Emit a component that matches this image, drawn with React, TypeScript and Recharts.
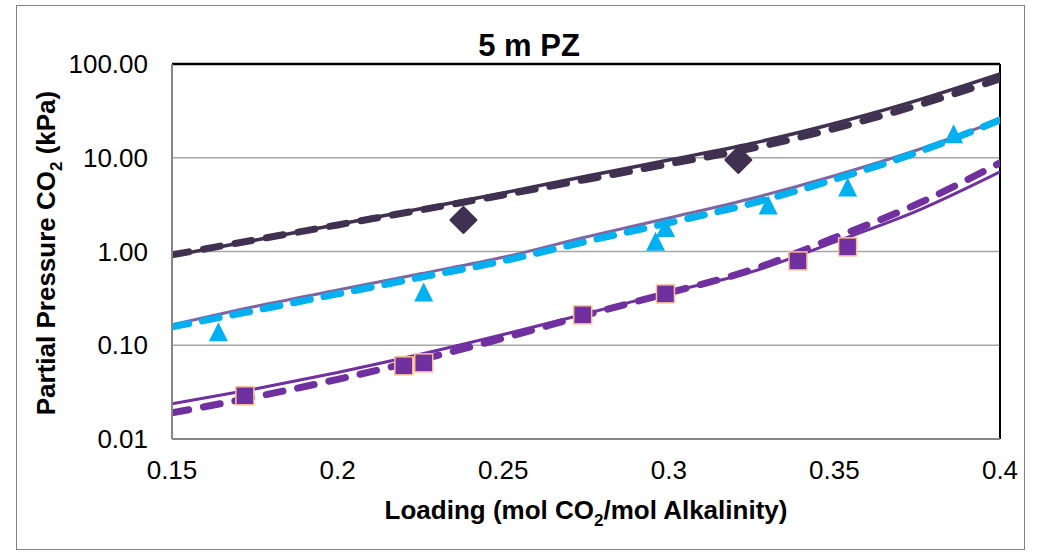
import { ComposedChart, Line, Scatter, XAxis, YAxis, CartesianGrid, ReferenceLine } from "recharts";

const loadingGrid = [0.15, 0.175, 0.2, 0.225, 0.25, 0.275, 0.3, 0.325, 0.35, 0.375, 0.4];

// model curves (solid) and second model (dashed), kPa
const darkModel = [0.9, 1.32, 1.94, 2.86, 4.21, 6.35, 9.45, 14.2, 23.2, 40.9, 78.4];
const darkDashed = [0.92, 1.33, 1.92, 2.77, 4.01, 5.87, 8.59, 12.6, 20.5, 36.2, 69.3];
const cyanModel = [0.165, 0.259, 0.388, 0.579, 0.867, 1.43, 2.28, 3.68, 6.43, 12.1, 25.3];
const cyanDashed = [0.157, 0.235, 0.353, 0.53, 0.794, 1.28, 2.02, 3.26, 5.87, 11.4, 25.3];
const purpleModel = [0.0237, 0.0342, 0.0513, 0.08, 0.13, 0.217, 0.368, 0.607, 1.26, 2.71, 7.06];
const purpleDashed = [0.019, 0.0281, 0.0433, 0.07, 0.119, 0.21, 0.362, 0.637, 1.4, 3.21, 8.81];

// experimental points
const diamondX = [0.238, 0.321];
const diamondY = [2.17, 9.48];
const triangleX = [0.164, 0.226, 0.296, 0.299, 0.33, 0.354, 0.386];
const triangleY = [0.139, 0.37, 1.29, 1.8, 3.14, 4.88, 18.0];
const squareX = [0.172, 0.22, 0.226, 0.274, 0.299, 0.339, 0.354];
const squareY = [0.0289, 0.0603, 0.0649, 0.211, 0.353, 0.794, 1.12];

const xTicks = [0.15, 0.2, 0.25, 0.3, 0.35, 0.4];
const yTicks = [0.01, 0.1, 1, 10, 100];

const toPts = (xs: number[], ys: number[]) => xs.map((x, i) => ({ x, y: ys[i] }));

const DARK = "#403151";
const CYAN = "#00B0F0";
const PURPLE = "#7030A0";
const LAVENDER = "#8064A2";
const FONT = "'Liberation Sans', Arial, sans-serif";

const Diamond = (p: any) => {
  const { cx, cy } = p;
  const r = 13;
  return (
    <path
      d={`M${cx},${cy - r} L${cx + r},${cy} L${cx},${cy + r} L${cx - r},${cy} Z`}
      fill={DARK}
      stroke={DARK}
      strokeLinejoin="round"
      strokeWidth={2}
    />
  );
};

const Triangle = (p: any) => {
  const { cx, cy } = p;
  const h = 19;
  const w = 19;
  return (
    <path
      d={`M${cx},${cy - h / 2} L${cx + w / 2},${cy + h / 2} L${cx - w / 2},${cy + h / 2} Z`}
      fill={CYAN}
    />
  );
};

const Square = (p: any) => {
  const { cx, cy } = p;
  const s = 18;
  return <rect x={cx - s / 2} y={cy - s / 2} width={s} height={s} fill={PURPLE} stroke="#FAC090" strokeWidth={1.5} />;
};

export default function App() {
  const curve = (vals: number[]) => toPts(loadingGrid, vals);

  return (
    <div
      style={{
        position: "absolute",
        left: 16,
        top: 5,
        width: 1007,
        height: 543,
        border: "1px solid #808080",
        background: "#fff",
        fontFamily: FONT,
      }}
    >
      <ComposedChart width={1007} height={543} margin={{ top: 58, right: 24, bottom: 50, left: 55 }}>
        <CartesianGrid vertical={false} stroke="#A6A6A6" strokeWidth={1.5} />
        <XAxis
          type="number"
          dataKey="x"
          domain={[0.15, 0.4]}
          ticks={xTicks}
          allowDataOverflow
          height={60}
          tickLine={false}
          tickSize={0}
          tickMargin={22}
          axisLine={{ stroke: "#868686", strokeWidth: 2 }}
          tick={{ fill: "#000", fontSize: 26, fontFamily: FONT }}
          tickFormatter={(v: number) => String(v)}
        />
        <YAxis
          type="number"
          dataKey="y"
          scale="log"
          domain={[0.01, 100]}
          ticks={yTicks}
          allowDataOverflow
          width={100}
          tickLine={false}
          tickSize={0}
          tickMargin={24}
          axisLine={{ stroke: "#868686", strokeWidth: 2 }}
          tick={{ fill: "#000", fontSize: 26, fontFamily: FONT }}
          tickFormatter={(v: number) => v.toFixed(2)}
        />
        <ReferenceLine y={100} stroke="#000" strokeWidth={2.5} />
        <ReferenceLine x={0.4} stroke="#000" strokeWidth={2} />

        <Line data={curve(darkModel)} dataKey="y" type="monotone" stroke={DARK} strokeWidth={3.5} dot={false} isAnimationActive={false} />
        <Line data={curve(cyanModel)} dataKey="y" type="monotone" stroke={LAVENDER} strokeWidth={3} dot={false} isAnimationActive={false} />
        <Line data={curve(purpleModel)} dataKey="y" type="monotone" stroke={PURPLE} strokeWidth={3} dot={false} isAnimationActive={false} />

        <Line data={curve(darkDashed)} dataKey="y" type="monotone" stroke={DARK} strokeWidth={7} strokeDasharray="17 15" strokeLinecap="round" dot={false} isAnimationActive={false} />
        <Line data={curve(cyanDashed)} dataKey="y" type="monotone" stroke={CYAN} strokeWidth={7} strokeDasharray="17 14" strokeLinecap="round" dot={false} isAnimationActive={false} />
        <Line data={curve(purpleDashed)} dataKey="y" type="monotone" stroke={PURPLE} strokeWidth={7} strokeDasharray="17 15" strokeLinecap="round" dot={false} isAnimationActive={false} />

        <Scatter data={toPts(diamondX, diamondY)} dataKey="y" shape={Diamond} isAnimationActive={false} />
        <Scatter data={toPts(triangleX, triangleY)} dataKey="y" shape={Triangle} isAnimationActive={false} />
        <Scatter data={toPts(squareX, squareY)} dataKey="y" shape={Square} isAnimationActive={false} />
      </ComposedChart>

      <svg width={1007} height={543} style={{ position: "absolute", left: 0, top: 0, pointerEvents: "none" }}>
        <text x={512} y={50} textAnchor="middle" fontFamily={FONT} fontWeight="bold" fontSize={31} fill="#000">
          5 m PZ
        </text>
        <text x={569} y={513} textAnchor="middle" fontFamily={FONT} fontWeight="bold" fontSize={26} fill="#000">
          Loading (mol CO
          <tspan fontSize={17} dy={7}>2</tspan>
          <tspan dy={-7}>/mol Alkalinity)</tspan>
        </text>
        <text
          transform="translate(38,247) rotate(-90)"
          textAnchor="middle"
          fontFamily={FONT}
          fontWeight="bold"
          fontSize={26}
          fill="#000"
        >
          Partial Pressure CO
          <tspan fontSize={17} dy={7}>2</tspan>
          <tspan dy={-7}> (kPa)</tspan>
        </text>
      </svg>
    </div>
  );
}
